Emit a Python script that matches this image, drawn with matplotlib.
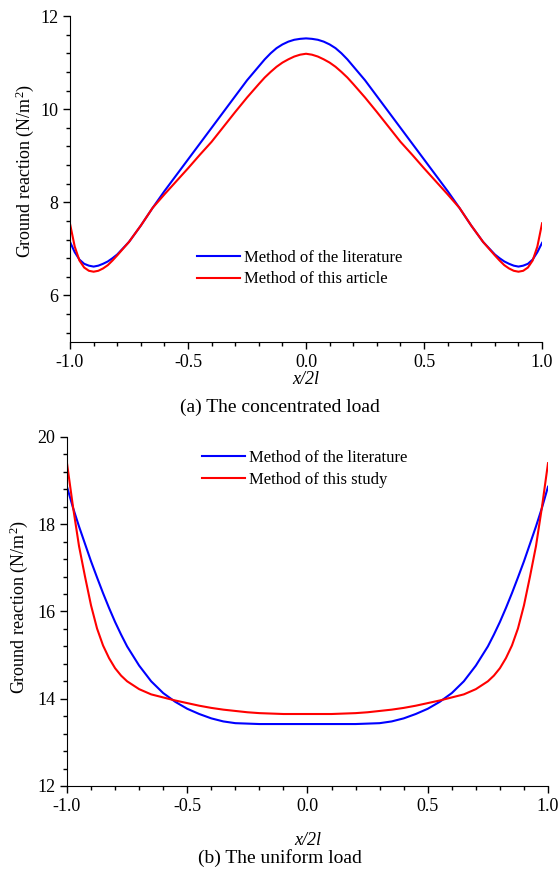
import matplotlib
matplotlib.use("Agg")
import matplotlib.pyplot as plt
from matplotlib.ticker import MultipleLocator, FormatStrFormatter

plt.rcParams['font.family'] = ['Liberation Serif', 'DejaVu Serif']
plt.rcParams['mathtext.fontset'] = 'custom'
plt.rcParams['mathtext.rm'] = 'Liberation Serif'
plt.rcParams['mathtext.it'] = 'Liberation Serif:italic'
plt.rcParams['axes.unicode_minus'] = False

# (a) concentrated load
x_a = [-1.0, -0.98, -0.96, -0.94, -0.92, -0.90, -0.88, -0.86, -0.84, -0.82, -0.80,
       -0.75, -0.70, -0.65, -0.60, -0.55, -0.50, -0.45, -0.40, -0.35, -0.30, -0.25,
       -0.20, -0.175, -0.15, -0.125, -0.10, -0.075, -0.05, -0.025, 0.0,
       0.025, 0.05, 0.075, 0.10, 0.125, 0.15, 0.175, 0.20,
       0.25, 0.30, 0.35, 0.40, 0.45, 0.50, 0.55, 0.60, 0.65, 0.70, 0.75,
       0.80, 0.82, 0.84, 0.86, 0.88, 0.90, 0.92, 0.94, 0.96, 0.98, 1.0]
lit_a = [7.15, 6.93, 6.77, 6.68, 6.64, 6.62, 6.64, 6.68, 6.73, 6.80, 6.88,
         7.15, 7.50, 7.88, 8.24, 8.58, 8.92, 9.26, 9.60, 9.94, 10.28, 10.62,
         10.92, 11.07, 11.20, 11.31, 11.39, 11.45, 11.49, 11.51, 11.52,
         11.51, 11.49, 11.45, 11.39, 11.31, 11.20, 11.07, 10.92,
         10.62, 10.28, 9.94, 9.60, 9.26, 8.92, 8.58, 8.24, 7.88, 7.50, 7.15,
         6.88, 6.80, 6.73, 6.68, 6.64, 6.62, 6.64, 6.68, 6.77, 6.93, 7.13]
art_a = [7.54, 7.05, 6.75, 6.60, 6.53, 6.51, 6.53, 6.58, 6.65, 6.75, 6.86,
         7.15, 7.50, 7.88, 8.17, 8.45, 8.73, 9.02, 9.30, 9.62, 9.94, 10.25,
         10.54, 10.68, 10.80, 10.91, 11.00, 11.07, 11.13, 11.17, 11.19,
         11.17, 11.13, 11.07, 11.00, 10.91, 10.80, 10.68, 10.54,
         10.25, 9.94, 9.62, 9.30, 9.02, 8.73, 8.45, 8.17, 7.88, 7.50, 7.15,
         6.86, 6.75, 6.65, 6.58, 6.53, 6.51, 6.53, 6.60, 6.75, 7.05, 7.55]

# (b) uniform load
x_b = [-1.0, -0.975, -0.95, -0.925, -0.90, -0.875, -0.85, -0.825, -0.80, -0.775, -0.75,
       -0.70, -0.65, -0.60, -0.55, -0.50, -0.45, -0.40, -0.35, -0.30, -0.25,
       -0.20, -0.15, -0.10, -0.05, 0.0, 0.05, 0.10, 0.15, 0.20,
       0.25, 0.30, 0.35, 0.40, 0.45, 0.50, 0.55, 0.60, 0.65, 0.70,
       0.75, 0.775, 0.80, 0.825, 0.85, 0.875, 0.90, 0.925, 0.95, 0.975, 1.0]
lit_b = [18.86, 18.38, 17.95, 17.55, 17.15, 16.78, 16.42, 16.08, 15.76, 15.47, 15.20,
         14.76, 14.40, 14.13, 13.93, 13.77, 13.65, 13.55, 13.48, 13.44, 13.43,
         13.42, 13.42, 13.42, 13.42, 13.42, 13.42, 13.42, 13.42, 13.42,
         13.43, 13.44, 13.48, 13.55, 13.65, 13.77, 13.93, 14.13, 14.40, 14.76,
         15.20, 15.47, 15.76, 16.08, 16.42, 16.78, 17.15, 17.55, 17.95, 18.38, 18.86]
art_b = [19.40, 18.40, 17.50, 16.80, 16.14, 15.61, 15.22, 14.93, 14.70, 14.53, 14.40,
         14.22, 14.10, 14.03, 13.96, 13.90, 13.84, 13.79, 13.75, 13.72, 13.69,
         13.67, 13.66, 13.65, 13.65, 13.65, 13.65, 13.65, 13.66, 13.67,
         13.69, 13.72, 13.75, 13.79, 13.84, 13.90, 13.96, 14.03, 14.10, 14.22,
         14.40, 14.53, 14.70, 14.93, 15.22, 15.61, 16.14, 16.80, 17.50, 18.40, 19.40]

fig = plt.figure(figsize=(5.6, 8.71), dpi=100)
ax1 = fig.add_axes([0.125, 0.6073, 0.843, 0.3743])
ax2 = fig.add_axes([0.1196, 0.0976, 0.859, 0.4007])


def style(ax, ylo, yhi):
    ax.set_xlim(-1, 1)
    ax.set_ylim(ylo, yhi)
    ax.xaxis.set_major_locator(MultipleLocator(0.5))
    ax.xaxis.set_minor_locator(MultipleLocator(0.1))
    ax.yaxis.set_major_locator(MultipleLocator(2))
    ax.yaxis.set_minor_locator(MultipleLocator(0.4))
    ax.xaxis.set_major_formatter(FormatStrFormatter('%.1f'))
    for s in ['top', 'right']:
        ax.spines[s].set_visible(False)
    ax.tick_params(which='major', direction='out', length=5, width=1, labelsize=13)
    ax.tick_params(which='minor', direction='out', length=3, width=1)


legend_kw = dict(bbox_transform=fig.transFigure, loc='center left', frameon=False,
                 fontsize=12, handlelength=2.6, handletextpad=0.2, borderpad=0,
                 borderaxespad=0, labelspacing=0.35)

ax1.plot(x_a, lit_a, color='#0000FF', lw=1.5, label='Method of the literature')
ax1.plot(x_a, art_a, color='#FF0000', lw=1.5, label='Method of this article')
style(ax1, 5, 12)
ax1.set_yticks([6, 8, 10, 12])
ax1.legend(bbox_to_anchor=(0.352, 0.6917), **legend_kw)

ax2.plot(x_b, lit_b, color='#0000FF', lw=1.5, label='Method of the literature')
ax2.plot(x_b, art_b, color='#FF0000', lw=1.5, label='Method of this study')
style(ax2, 12, 20)
ax2.legend(bbox_to_anchor=(0.361, 0.4616), **legend_kw)

fig.text(306 / 560, 1 - 380 / 871, 'x/2l', style='italic', fontsize=13, ha='center', va='center')
fig.text(0.5, 1 - 407 / 871, '(a) The concentrated load', fontsize=14, ha='center', va='center')
fig.text(308 / 560, 1 - 840 / 871, 'x/2l', style='italic', fontsize=13, ha='center', va='center')
fig.text(0.5, 1 - 858 / 871, '(b) The uniform load', fontsize=14, ha='center', va='center')
fig.text(25 / 560, 1 - 171 / 871, 'Ground reaction (N/m$^2$)', rotation=90, fontsize=13,
         ha='center', va='center')
fig.text(19 / 560, 1 - 607 / 871, 'Ground reaction (N/m$^2$)', rotation=90, fontsize=13,
         ha='center', va='center')

fig.savefig('out.png', dpi=100)
